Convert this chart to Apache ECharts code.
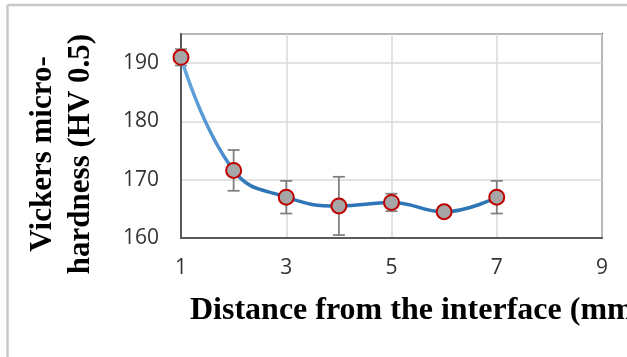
<!DOCTYPE html>
<html>
<head>
<meta charset="utf-8">
<script src="https://cdn.jsdelivr.net/npm/echarts@6/dist/echarts.min.js"></script>
<style>
html,body{margin:0;padding:0;background:#fff;}
#chart{width:627px;height:357px;}
</style>
</head>
<body>
<div id="chart"></div>
<script>
// Data
var distances = [1, 2, 3, 4, 5, 6, 7];
var hardness = [191.0, 171.6, 167.0, 165.5, 166.1, 164.5, 167.0];
var errors = [1.4, 3.5, 2.8, 5.0, 1.5, 0.5, 2.8];
var yTickLabels = [160, 170, 180, 190];
var xTickLabels = [1, 3, 5, 7, 9];
var yTitle = 'Vickers micro-\nhardness (HV 0.5)';
var xTitle = 'Distance from the interface (mm)';

var chart = echarts.init(document.getElementById('chart'));

var lineData = distances.map(function (d, i) { return [d, hardness[i]]; });
var errData = distances.map(function (d, i) { return [d, hardness[i] - errors[i], hardness[i] + errors[i]]; });

var option = {
  animation: false,
  backgroundColor: '#fff',
  grid: {
    left: 181, top: 34, right: 25, bottom: 119,
    show: true, borderColor: '#595959', borderWidth: 2, backgroundColor: 'transparent'
  },
  xAxis: {
    type: 'value', min: 1, max: 9, interval: 2,
    axisLine: { show: true, lineStyle: { color: '#595959', width: 2 } },
    axisTick: { show: false },
    splitLine: { show: true, lineStyle: { color: '#d9d9d9', width: 1.5 } },
    axisLabel: {
      margin: 20, color: '#333', fontSize: 21, fontFamily: 'Open Sans',
      formatter: function (v) { return xTickLabels.indexOf(v) >= 0 ? String(v) : ''; }
    }
  },
  yAxis: {
    type: 'value', min: 160, max: 195, interval: 10,
    axisLine: { show: true, lineStyle: { color: '#595959', width: 2 } },
    axisTick: { show: false },
    splitLine: { show: true, lineStyle: { color: '#d9d9d9', width: 1.5 } },
    axisLabel: {
      margin: 22, color: '#333', fontSize: 21, fontFamily: 'Open Sans',
      formatter: function (v) { return yTickLabels.indexOf(v) >= 0 ? String(v) : ''; }
    }
  },
  graphic: [
    { type: 'line', shape: { x1: 7.5, y1: 5, x2: 627, y2: 5 }, style: { stroke: '#c8c8c8', lineWidth: 2.5 } },
    { type: 'line', shape: { x1: 7.5, y1: 5, x2: 7.5, y2: 357 }, style: { stroke: '#c8c8c8', lineWidth: 2.5 } },
    {
      type: 'text', x: 62, y: 154, rotation: Math.PI / 2,
      style: {
        text: yTitle, font: 'bold 31px "Liberation Serif", "Times New Roman", serif',
        fill: '#000', align: 'center', verticalAlign: 'middle', lineHeight: 38
      }
    },
    {
      type: 'text', x: 190, y: 311,
      style: {
        text: xTitle, font: 'bold 32px "Liberation Serif", "Times New Roman", serif',
        fill: '#000', align: 'left', verticalAlign: 'middle'
      }
    }
  ],
  series: [
    {
      type: 'custom',
      renderItem: function (params, api) {
        var x = api.value(0);
        var lo = api.coord([x, api.value(1)]);
        var hi = api.coord([x, api.value(2)]);
        var hw = 6;
        var st = { stroke: '#7f7f7f', lineWidth: 1.75 };
        return {
          type: 'group',
          children: [
            { type: 'line', shape: { x1: hi[0], y1: hi[1], x2: lo[0], y2: lo[1] }, style: st },
            { type: 'line', shape: { x1: hi[0] - hw, y1: hi[1], x2: hi[0] + hw, y2: hi[1] }, style: st },
            { type: 'line', shape: { x1: lo[0] - hw, y1: lo[1], x2: lo[0] + hw, y2: lo[1] }, style: st }
          ]
        };
      },
      encode: { x: 0, y: [1, 2] },
      data: errData,
      z: 2
    },
    {
      type: 'line',
      data: lineData,
      smooth: 0.45,
      symbol: 'circle',
      symbolSize: 15,
      lineStyle: {
        width: 3.5,
        color: new echarts.graphic.LinearGradient(0, 0, 0, 1, [
          { offset: 0, color: '#6aaae0' },
          { offset: 0.6, color: '#4d8fcf' },
          { offset: 0.85, color: '#2e75b6' },
          { offset: 1, color: '#2e75b6' }
        ])
      },
      itemStyle: { color: '#a6a6a6', borderColor: '#c00000', borderWidth: 2 },
      z: 3
    }
  ]
};
chart.setOption(option);
</script>
</body>
</html>
